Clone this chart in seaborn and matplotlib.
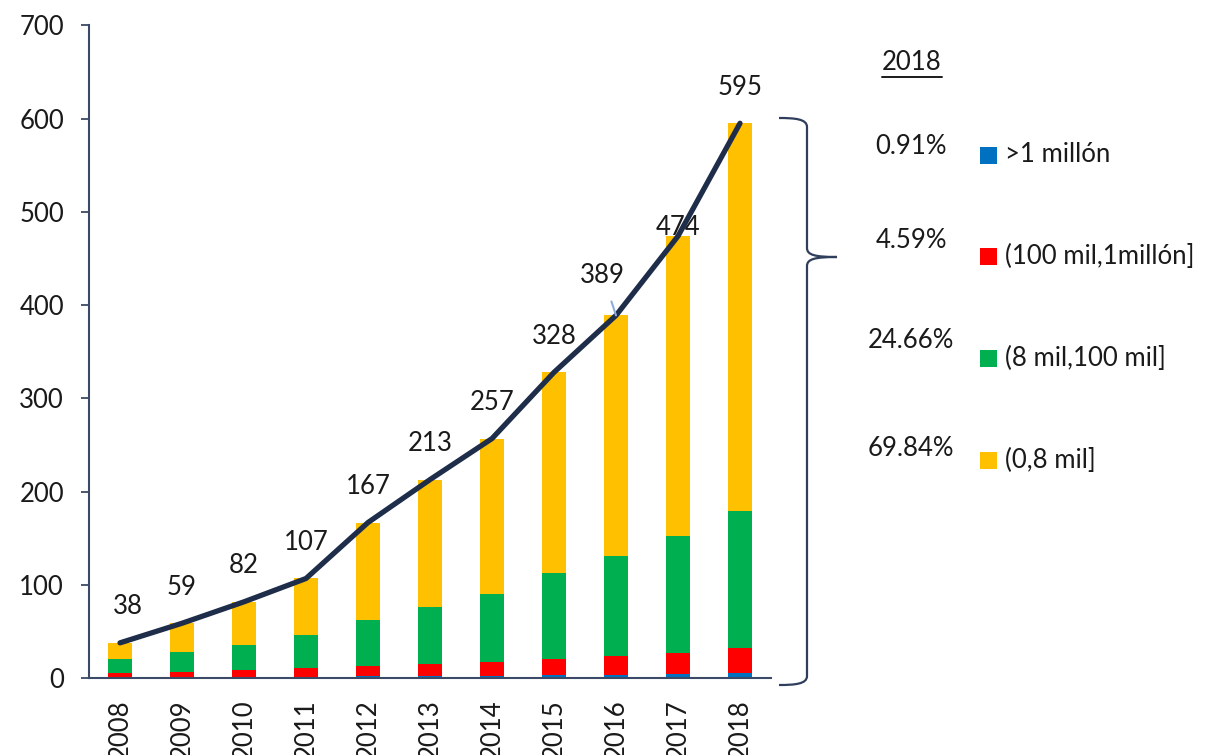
import numpy as np
import pandas as pd
import seaborn as sns
import matplotlib.pyplot as plt
from matplotlib.path import Path
from matplotlib.patches import PathPatch, Rectangle
from matplotlib.lines import Line2D

# ---------------- data ----------------
years = ['2008', '2009', '2010', '2011', '2012', '2013', '2014', '2015', '2016', '2017', '2018']
blue = [1.0, 1.2, 1.4, 1.8, 2.2, 2.5, 2.9, 3.4, 3.8, 4.3, 5.4]
red = [5.1, 5.9, 7.9, 9.6, 11.4, 13.3, 14.6, 17.7, 20.1, 22.8, 27.3]
green = [14.6, 21.1, 26.4, 34.6, 48.4, 60.6, 72.5, 91.4, 106.9, 125.4, 146.7]
yellow = [17.3, 30.8, 46.3, 61.0, 105.0, 136.6, 167.0, 215.5, 258.2, 321.5, 415.6]
totals = [38, 59, 82, 107, 167, 213, 257, 328, 389, 474, 595]
series_names = ['>1 millón', '(100 mil,1millón]', '(8 mil,100 mil]', '(0,8 mil]']
shares_2018 = ['0.91%', '4.59%', '24.66%', '69.84%']
header = '2018'

colors = ['#0070C0', '#FF0000', '#00B050', '#FFC000']
line_color = '#1E2D4A'
axis_color = '#3B4A66'
text_color = '#1A1A1A'

# ---------------- style ----------------
sns.set_theme(style='white')
plt.rcParams['font.family'] = ['Lato', 'DejaVu Sans']
plt.rcParams['font.weight'] = 'normal'
FS = 18.5

W, H = 1206, 755
fig = plt.figure(figsize=(W / 100, H / 100), dpi=100)
ax = fig.add_axes([89 / W, 1 - 678.3 / H, 682 / W, 653 / H])

df = pd.DataFrame({'year': years, 'blue': blue, 'red': red, 'green': green, 'yellow': yellow})
cols = ['blue', 'red', 'green', 'yellow']
cum = df[cols].cumsum(axis=1)

# stacked bars: draw cumulative heights from the top segment down
for col, c in reversed(list(zip(cols, colors))):
    sns.barplot(x=df['year'], y=cum[col], color=c, width=0.4, saturation=1,
                edgecolor='none', ax=ax, zorder=2)

# totals line
xpos = np.arange(len(years))
sns.lineplot(x=xpos, y=totals, color=line_color, linewidth=3.8, ax=ax,
             zorder=5, solid_capstyle='round', solid_joinstyle='round')

# total labels
for i, v in enumerate(totals):
    dx, dy = 0, 26
    if years[i] == '2008':
        dx = 6
    if years[i] == '2017':
        dy = 6.5
    if years[i] == '2016':
        ax.annotate(str(v), xy=(i, v), xytext=(-9.5, 29), textcoords='offset points',
                    ha='center', va='center', fontsize=FS, color=text_color, zorder=6,
                    arrowprops=dict(arrowstyle='-', color='#8FAADC', lw=1.5,
                                    shrinkA=8, shrinkB=0, zorder=7))
        continue
    ax.annotate(str(v), xy=(i, v), xytext=(dx, dy), textcoords='offset points',
                ha='center', va='center', fontsize=FS, color=text_color, zorder=6)

# axes styling
ax.set_xlim(-0.5, 10.5)
ax.set_ylim(0, 700)
ax.set_yticks(range(0, 701, 100))
ax.set_xlabel('')
ax.set_ylabel('')
ax.grid(False)
for s in ['top', 'right']:
    ax.spines[s].set_visible(False)
for s in ['left', 'bottom']:
    ax.spines[s].set_color(axis_color)
    ax.spines[s].set_linewidth(1.5)
ax.tick_params(axis='y', which='both', left=True, length=6, width=1.3, color=axis_color,
               direction='out', pad=12, labelsize=FS, labelcolor=text_color)
ax.tick_params(axis='x', length=0, pad=15, labelsize=FS, labelcolor=text_color)
for lab in ax.get_xticklabels():
    lab.set_rotation(90)

# ---------------- right-hand annotation ----------------
def fx(px):
    return px / W

def fy(py):
    return 1 - py / H

t = fig.text(fx(912), fy(62), header, ha='center', va='center', fontsize=FS, color=text_color)
fig.canvas.draw()
bb = t.get_window_extent()
fig.add_artist(Line2D([bb.x0 / W, bb.x1 / W], [(bb.y0 - 2) / H, (bb.y0 - 2) / H],
                      transform=fig.transFigure, color=text_color, lw=1.4))

pct_y = [146, 241, 341, 448]
leg_y = [155, 256, 358, 460]
for name, share, c, py, ly in zip(series_names, shares_2018, colors, pct_y, leg_y):
    fig.text(fx(911), fy(py), share, ha='center', va='center', fontsize=FS, color=text_color)
    fig.add_artist(Rectangle((fx(980), fy(ly + 8.5)), 17 / W, 17 / H,
                             transform=fig.transFigure, color=c, lw=0))
    fig.text(fx(1005), fy(ly), name, ha='left', va='center', fontsize=FS, color=text_color)

# curly brace
pts = [(779, 118), (795, 118), (807, 119), (807, 127),
       (807, 248),
       (807, 255), (815, 257), (837, 257),
       (815, 257), (807, 259), (807, 266),
       (807, 676),
       (807, 684), (795, 685), (779, 685)]
codes = [Path.MOVETO, Path.CURVE4, Path.CURVE4, Path.CURVE4,
         Path.LINETO,
         Path.CURVE4, Path.CURVE4, Path.CURVE4,
         Path.CURVE4, Path.CURVE4, Path.CURVE4,
         Path.LINETO,
         Path.CURVE4, Path.CURVE4, Path.CURVE4]
verts = [(fx(x), fy(y)) for x, y in pts]
fig.add_artist(PathPatch(Path(verts, codes), transform=fig.transFigure, fill=False,
                         ec='#2F3E5C', lw=1.6))

fig.savefig('out.png', dpi=100)
